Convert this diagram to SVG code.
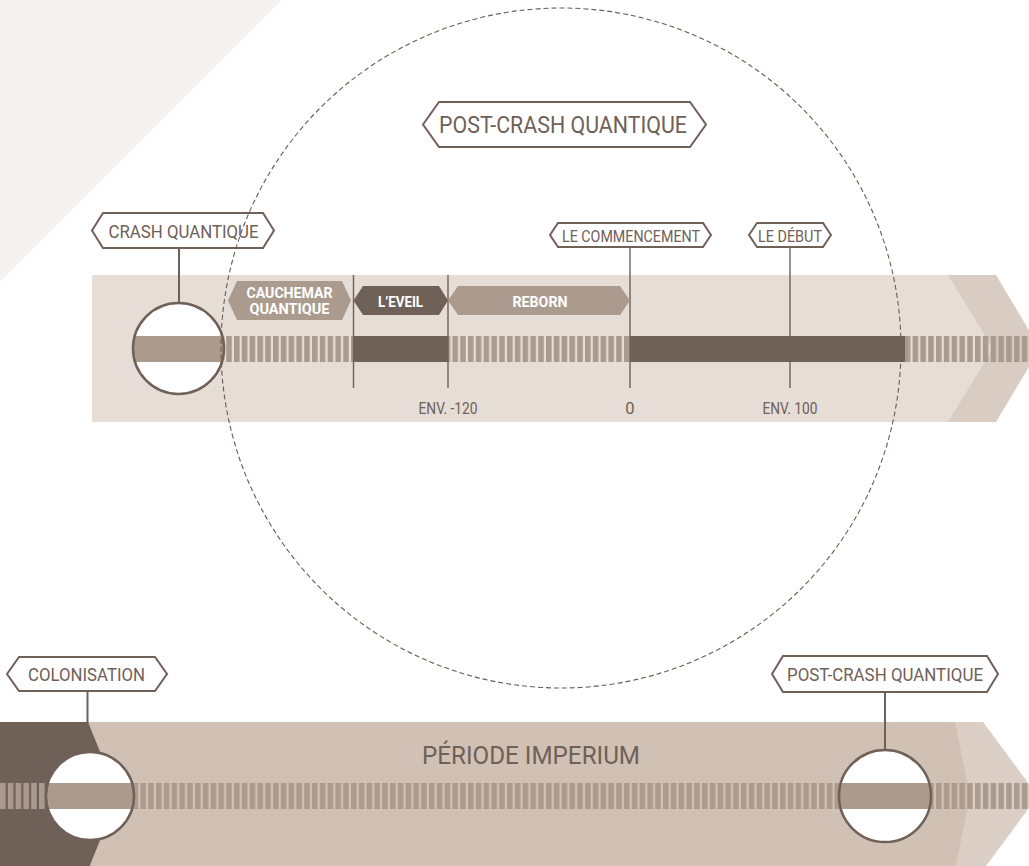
<svg xmlns="http://www.w3.org/2000/svg" width="1029" height="866" viewBox="0 0 1029 866">
<style>
.lbl{fill:#fff;stroke:#6f6058;stroke-width:2;stroke-linejoin:miter}
.t{font-family:Roboto,"Liberation Sans",sans-serif;fill:#6f6058;text-anchor:middle}
.tw{font-family:Roboto,"Liberation Sans",sans-serif;fill:#fff;font-weight:bold;text-anchor:middle}
.ln{stroke:#6f6058;stroke-width:1.4;fill:none}
.stem{stroke:#6f6058;stroke-width:2;fill:none}
.ring{fill:none;stroke:#6f6058;stroke-width:2.5}
</style>
<defs>
<pattern id="stripes" patternUnits="userSpaceOnUse" x="0" y="0" width="7.8" height="30">
<rect x="0" y="0" width="5.6" height="30" fill="#ab9b8e"/>
</pattern>
<clipPath id="c1"><circle cx="178.5" cy="348.5" r="45.5"/></clipPath>
<clipPath id="c2"><circle cx="90" cy="796" r="44"/></clipPath>
<clipPath id="c3"><circle cx="885" cy="796" r="46"/></clipPath>
</defs>

<!-- background triangle -->
<polygon points="0,0 282,0 0,282" fill="#f6f2ef"/>

<!-- upper timeline band -->
<g id="upper-band">
<polygon points="940,275 996,275 1040,348.5 996,422 940,422" fill="#d9ccc3"/>
<polygon points="92,275 948,275 993,348.5 948,422 92,422" fill="#e6ddd6"/>
<rect x="224" y="336" width="129.5" height="26" fill="url(#stripes)"/>
<rect x="353.5" y="336" width="94.5" height="26" fill="#6f6058"/>
<rect x="448" y="336" width="182" height="26" fill="url(#stripes)"/>
<rect x="630" y="336" width="275" height="26" fill="#6f6058"/>
<rect x="905" y="336" width="124" height="26" fill="url(#stripes)"/>
</g>

<!-- bottom timeline band -->
<g id="bottom-band">
<polygon points="950,722 983,722 1038,796 983,870 950,870" fill="#dbcec5"/>
<polygon points="0,722 955,722 970,796 955,870 0,870" fill="#d1c0b4"/>
<polygon points="0,722 88,722 118,796 88,870 0,870" fill="#6f6058"/>
<rect x="0" y="783" width="1029" height="26" fill="url(#stripes)"/>
<text class="t" x="531" y="764" font-size="26.5" textLength="218" lengthAdjust="spacingAndGlyphs">PÉRIODE IMPERIUM</text>
</g>

<!-- connectors -->
<g id="connectors">
<line class="stem" x1="179" y1="248" x2="179" y2="303"/>
<line class="ln" x1="353.5" y1="275" x2="353.5" y2="388"/>
<line class="ln" x1="448" y1="275" x2="448" y2="388"/>
<line class="ln" x1="630" y1="247" x2="630" y2="388"/>
<line class="ln" x1="790" y1="247" x2="790" y2="388"/>
<line class="stem" x1="87.5" y1="691" x2="87.5" y2="752"/>
<line class="stem" x1="885" y1="692" x2="885" y2="750"/>
</g>

<!-- circles -->
<g id="crash-circle">
<circle cx="178.5" cy="348.5" r="45.5" fill="#fff"/>
<rect x="130" y="336" width="100" height="26" fill="#ab9b8e" clip-path="url(#c1)"/>
<circle class="ring" cx="178.5" cy="348.5" r="45.5"/>
</g>
<g id="colonisation-circle">
<circle cx="90" cy="796" r="44" fill="#fff"/>
<rect x="44" y="783" width="92" height="26" fill="#ab9b8e" clip-path="url(#c2)"/>
<circle class="ring" cx="90" cy="796" r="44"/>
</g>
<g id="postcrash-circle">
<circle cx="885" cy="796" r="46" fill="#fff"/>
<rect x="837" y="783" width="96" height="26" fill="#ab9b8e" clip-path="url(#c3)"/>
<circle class="ring" cx="885" cy="796" r="46"/>
</g>

<!-- period pills -->
<g id="cauchemar">
<polygon points="228,300.5 237,281 342,281 351,300.5 342,320 237,320" fill="#ab9b8e"/>
<text class="tw" x="289.5" y="298" font-size="14.5" textLength="86" lengthAdjust="spacingAndGlyphs">CAUCHEMAR</text>
<text class="tw" x="289.5" y="314" font-size="14.5" textLength="80" lengthAdjust="spacingAndGlyphs">QUANTIQUE</text>
</g>
<g id="eveil">
<polygon points="353.5,300.5 363,286 439,286 448,300.5 439,315 363,315" fill="#6f6058"/>
<text class="tw" x="400.5" y="307" font-size="14.5" textLength="45" lengthAdjust="spacingAndGlyphs">L’EVEIL</text>
</g>
<g id="reborn">
<polygon points="448,300.5 458,286 620,286 630,300.5 620,315 458,315" fill="#ab9b8e"/>
<text class="tw" x="540" y="307" font-size="14.5" textLength="55" lengthAdjust="spacingAndGlyphs">REBORN</text>
</g>

<!-- labels -->
<g id="crash-quantique">
<polygon class="lbl" points="92,230.5 103,213 263,213 274,230.5 263,248 103,248"/>
<text class="t" x="183.5" y="238" font-size="17.5" textLength="150" lengthAdjust="spacingAndGlyphs">CRASH QUANTIQUE</text>
</g>
<g id="post-crash-top">
<polygon class="lbl" points="423,124.5 439,102 690,102 706,124.5 690,147 439,147"/>
<text class="t" x="563" y="133" font-size="23" textLength="248" lengthAdjust="spacingAndGlyphs">POST-CRASH QUANTIQUE</text>
</g>
<g id="commencement">
<polygon class="lbl" points="550,235 558,223 703,223 711,235 703,247 558,247"/>
<text class="t" x="631" y="242" font-size="17" textLength="138" lengthAdjust="spacingAndGlyphs">LE COMMENCEMENT</text>
</g>
<g id="debut">
<polygon class="lbl" points="749,235 757,223 823,223 831,235 823,247 757,247"/>
<text class="t" x="790" y="242" font-size="17" textLength="64" lengthAdjust="spacingAndGlyphs">LE DÉBUT</text>
</g>
<g id="colonisation">
<polygon class="lbl" points="7,674 19,657 155,657 167,674 155,691 19,691"/>
<text class="t" x="86.5" y="681" font-size="17.5" textLength="117" lengthAdjust="spacingAndGlyphs">COLONISATION</text>
</g>
<g id="post-crash-bottom">
<polygon class="lbl" points="772,674 783,656 987,656 998,674 987,692 783,692"/>
<text class="t" x="885" y="681" font-size="17.5" textLength="196" lengthAdjust="spacingAndGlyphs">POST-CRASH QUANTIQUE</text>
</g>

<!-- axis values -->
<g id="axis-values">
<text class="t" x="448" y="414" font-size="16.5" textLength="59" lengthAdjust="spacingAndGlyphs">ENV. -120</text>
<text class="t" x="630" y="414" font-size="16.5">0</text>
<text class="t" x="790" y="414" font-size="16.5" textLength="55" lengthAdjust="spacingAndGlyphs">ENV. 100</text>
</g>

<!-- dashed zoom circle -->
<circle id="zoom-circle" cx="561" cy="348" r="340" fill="none" stroke="#6a5c55" stroke-width="1.1" stroke-dasharray="5 3"/>
</svg>
